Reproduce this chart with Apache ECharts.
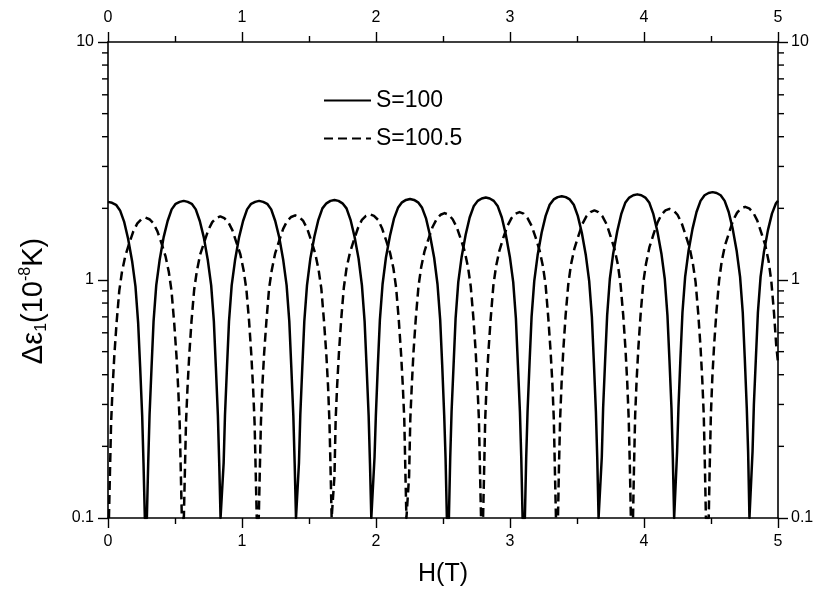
<!DOCTYPE html>
<html><head><meta charset="utf-8">
<script src="https://cdn.jsdelivr.net/npm/echarts@6/dist/echarts.min.js"></script>
<style>html,body{margin:0;padding:0;background:#fff}#c{width:820px;height:605px}</style>
</head><body><div id="c"></div>
<script>
const seriesNames = ['S=100', 'S=100.5'];
const xTicks = [0, 1, 2, 3, 4, 5];
const yTicks = [0.1, 1, 10];
const yMinorTicks = [0.2,0.3,0.4,0.5,0.6,0.7,0.8,0.9,2,3,4,5,6,7,8,9];

// S=100 (solid)
const s100H = [
0,0.03,0.06,0.09,0.12,0.15,0.18,0.205,0.225,0.24,0.255,0.265,0.275,
0.29,0.30,0.31,0.325,0.34,0.36,0.385,0.415,0.445,0.475,0.505,0.535,0.565,0.595,0.625,0.655,0.685,0.715,0.745,0.77,0.79,0.805,0.82,0.83,0.84,
0.853,0.863,0.873,0.888,0.903,0.923,0.948,0.978,1.008,1.038,1.068,1.098,1.128,1.158,1.188,1.218,1.248,1.278,1.308,1.333,1.353,1.368,1.383,1.393,1.403,
1.415,1.425,1.435,1.45,1.465,1.485,1.51,1.54,1.57,1.60,1.63,1.66,1.69,1.72,1.75,1.78,1.81,1.84,1.87,1.895,1.915,1.93,1.945,1.955,1.965,
1.979,1.989,1.999,2.014,2.029,2.049,2.074,2.104,2.134,2.164,2.194,2.224,2.254,2.284,2.314,2.344,2.374,2.404,2.434,2.459,2.479,2.494,2.509,2.519,2.529,
2.544,2.554,2.564,2.579,2.594,2.614,2.639,2.669,2.699,2.729,2.759,2.789,2.819,2.849,2.879,2.909,2.939,2.969,2.999,3.024,3.044,3.059,3.074,3.084,3.094,
3.111,3.121,3.131,3.146,3.161,3.181,3.206,3.236,3.266,3.296,3.326,3.356,3.386,3.416,3.446,3.476,3.506,3.536,3.566,3.591,3.611,3.626,3.641,3.651,3.661,
3.675,3.685,3.695,3.71,3.725,3.745,3.77,3.80,3.83,3.86,3.89,3.92,3.95,3.98,4.01,4.04,4.07,4.10,4.13,4.155,4.175,4.19,4.205,4.215,4.225,
4.237,4.247,4.257,4.272,4.287,4.307,4.332,4.362,4.392,4.422,4.452,4.482,4.512,4.542,4.572,4.602,4.632,4.662,4.692,4.717,4.737,4.752,4.767,4.777,4.787,
4.80,4.81,4.82,4.835,4.85,4.87,4.895,4.925,4.955,4.985,5.0];
const s100V = [
2.13,2.11,2.07,1.96,1.76,1.49,1.20,0.94,0.66,0.43,0.27,0.17,0.1,
0.1,0.17,0.27,0.43,0.67,0.95,1.21,1.51,1.77,1.98,2.09,2.13,2.15,2.13,2.09,1.98,1.77,1.51,1.21,0.95,0.67,0.43,0.27,0.17,0.1,
0.1,0.17,0.27,0.43,0.67,0.95,1.21,1.51,1.77,1.98,2.09,2.13,2.15,2.13,2.09,1.98,1.77,1.51,1.21,0.95,0.67,0.43,0.27,0.17,0.1,
0.1,0.17,0.27,0.43,0.67,0.95,1.23,1.52,1.79,2.00,2.10,2.15,2.17,2.15,2.10,2.00,1.79,1.52,1.23,0.95,0.67,0.43,0.27,0.17,0.1,
0.1,0.18,0.27,0.44,0.68,0.96,1.24,1.53,1.81,2.01,2.12,2.17,2.19,2.17,2.12,2.01,1.81,1.53,1.24,0.96,0.68,0.44,0.27,0.18,0.1,
0.1,0.18,0.28,0.44,0.69,0.98,1.25,1.55,1.83,2.04,2.15,2.20,2.22,2.20,2.15,2.04,1.83,1.55,1.25,0.98,0.69,0.44,0.28,0.18,0.1,
0.1,0.18,0.28,0.45,0.70,0.99,1.27,1.58,1.86,2.07,2.18,2.23,2.25,2.23,2.18,2.07,1.86,1.58,1.27,0.99,0.70,0.45,0.28,0.18,0.1,
0.1,0.18,0.29,0.46,0.71,1.01,1.29,1.60,1.89,2.11,2.22,2.27,2.29,2.27,2.22,2.11,1.89,1.60,1.29,1.01,0.71,0.46,0.29,0.18,0.1,
0.1,0.19,0.29,0.47,0.73,1.03,1.32,1.64,1.93,2.15,2.27,2.32,2.34,2.32,2.27,2.15,1.93,1.64,1.32,1.03,0.73,0.47,0.29,0.19,0.1,
0.1,0.19,0.30,0.47,0.73,1.03,1.31,1.62,1.90,2.10,2.15];

// S=100.5 (dashed)
const s1005H = [
0.007,0.014,0.023,0.034,0.047,0.064,0.084,0.104,0.129,0.159,0.189,0.219,0.249,0.279,0.309,0.339,0.369,0.399,0.429,0.454,0.474,0.494,0.511,0.524,0.535,0.544,0.551,
0.566,0.573,0.582,0.593,0.606,0.623,0.643,0.663,0.688,0.718,0.748,0.778,0.808,0.838,0.868,0.898,0.928,0.958,0.988,1.013,1.033,1.053,1.07,1.083,1.094,1.103,1.11,
1.125,1.132,1.141,1.152,1.165,1.182,1.202,1.222,1.247,1.277,1.307,1.337,1.367,1.397,1.427,1.457,1.487,1.517,1.547,1.572,1.592,1.612,1.629,1.642,1.653,1.662,1.669,
1.683,1.69,1.699,1.71,1.723,1.74,1.76,1.78,1.805,1.835,1.865,1.895,1.925,1.955,1.985,2.015,2.045,2.075,2.105,2.13,2.15,2.17,2.187,2.20,2.211,2.22,2.227,
2.24,2.247,2.256,2.267,2.28,2.297,2.317,2.337,2.362,2.392,2.422,2.452,2.482,2.512,2.542,2.572,2.602,2.632,2.662,2.687,2.707,2.727,2.744,2.757,2.768,2.777,2.784,
2.799,2.806,2.815,2.826,2.839,2.856,2.876,2.896,2.921,2.951,2.981,3.011,3.041,3.071,3.101,3.131,3.161,3.191,3.221,3.246,3.266,3.286,3.303,3.316,3.327,3.336,3.343,
3.358,3.365,3.374,3.385,3.398,3.415,3.435,3.455,3.48,3.51,3.54,3.57,3.60,3.63,3.66,3.69,3.72,3.75,3.78,3.805,3.825,3.845,3.862,3.875,3.886,3.895,3.902,
3.918,3.925,3.934,3.945,3.958,3.975,3.995,4.015,4.04,4.07,4.10,4.13,4.16,4.19,4.22,4.25,4.28,4.31,4.34,4.365,4.385,4.405,4.422,4.435,4.446,4.455,4.462,
4.483,4.49,4.499,4.51,4.523,4.54,4.56,4.58,4.605,4.635,4.665,4.695,4.725,4.755,4.785,4.815,4.845,4.875,4.905,4.93,4.95,4.97,4.987,5.0];
const s1005V = [
0.1,0.15,0.25,0.35,0.48,0.66,0.90,1.08,1.26,1.43,1.60,1.73,1.80,1.83,1.80,1.73,1.60,1.43,1.26,1.08,0.90,0.66,0.48,0.35,0.25,0.15,0.1,
0.1,0.15,0.25,0.35,0.48,0.67,0.91,1.09,1.28,1.44,1.62,1.75,1.82,1.85,1.82,1.75,1.62,1.44,1.28,1.09,0.91,0.67,0.48,0.35,0.25,0.15,0.1,
0.1,0.15,0.25,0.36,0.49,0.67,0.92,1.10,1.29,1.46,1.64,1.77,1.84,1.87,1.84,1.77,1.64,1.46,1.29,1.10,0.92,0.67,0.49,0.36,0.25,0.15,0.1,
0.1,0.15,0.26,0.36,0.49,0.68,0.93,1.12,1.30,1.47,1.65,1.79,1.86,1.89,1.86,1.79,1.65,1.47,1.30,1.12,0.93,0.68,0.49,0.36,0.26,0.15,0.1,
0.1,0.15,0.26,0.36,0.50,0.69,0.94,1.13,1.32,1.49,1.67,1.80,1.88,1.91,1.88,1.80,1.67,1.49,1.32,1.13,0.94,0.69,0.50,0.36,0.26,0.15,0.1,
0.1,0.15,0.26,0.37,0.50,0.69,0.95,1.14,1.33,1.51,1.69,1.82,1.90,1.93,1.90,1.82,1.69,1.51,1.33,1.14,0.95,0.69,0.50,0.37,0.26,0.15,0.1,
0.1,0.16,0.26,0.37,0.51,0.71,0.96,1.16,1.35,1.53,1.72,1.85,1.93,1.96,1.93,1.85,1.72,1.53,1.35,1.16,0.96,0.71,0.51,0.37,0.26,0.16,0.1,
0.1,0.16,0.27,0.38,0.52,0.72,0.98,1.17,1.37,1.55,1.74,1.88,1.96,1.99,1.96,1.88,1.74,1.55,1.37,1.17,0.98,0.72,0.52,0.38,0.27,0.16,0.1,
0.1,0.16,0.27,0.39,0.53,0.73,0.99,1.20,1.40,1.58,1.78,1.92,2.00,2.03,2.00,1.92,1.78,1.58,1.40,1.20,0.99,0.73,0.53,0.45];

const FONT = '"Liberation Sans", Arial, Helvetica, sans-serif';
const pairs = (xs, ys) => xs.map((x, i) => [x, ys[i]]);

const chart = echarts.init(document.getElementById('c'), null, {renderer: 'canvas'});
const axisLine = {show: true, onZero: false, lineStyle: {color: '#000', width: 1.6}};
const xAxisCommon = {
  type: 'value', min: xTicks[0], max: xTicks[xTicks.length - 1], interval: 1,
  axisLine: axisLine,
  axisTick: {show: true, inside: false, length: 10, lineStyle: {color: '#000', width: 1.4}},
  minorTick: {show: true, splitNumber: 2, length: 6, lineStyle: {color: '#000', width: 1.4}},
  splitLine: {show: false},
  axisLabel: {color: '#000', fontSize: 16, fontFamily: FONT, margin: 16}
};
const yAxisCommon = {
  type: 'log', logBase: 10, min: yTicks[0], max: yTicks[yTicks.length - 1],
  axisLine: axisLine,
  axisTick: {show: true, inside: false, length: 10, lineStyle: {color: '#000', width: 1.4}},
  minorTick: {show: false},
  splitLine: {show: false},
  axisLabel: {color: '#000', fontSize: 16, fontFamily: FONT, margin: 14}
};

chart.setOption({
  animation: false,
  backgroundColor: '#fff',
  grid: {left: 108, right: 42, top: 42, bottom: 87, containLabel: false},
  legend: {
    orient: 'vertical', left: 323, top: 89, itemGap: 15, padding: 0,
    itemWidth: 47, itemHeight: 22,
    itemStyle: {color: 'rgba(0,0,0,0)', borderColor: 'rgba(0,0,0,0)', borderWidth: 0},
    textStyle: {color: '#000', fontSize: 23, fontFamily: FONT},
    data: seriesNames
  },
  xAxis: [
    Object.assign({}, xAxisCommon, {position: 'bottom', name: 'H(T)', nameLocation: 'middle', nameGap: 44,
      nameTextStyle: {color: '#000', fontSize: 25, fontFamily: FONT}}),
    Object.assign({}, xAxisCommon, {position: 'top'})
  ],
  yAxis: [
    Object.assign({}, yAxisCommon, {position: 'left',
      name: 'Δε{sub|1}(10{sup|-8}K)', nameLocation: 'middle', nameGap: 58, nameRotate: 90,
      nameTextStyle: {color: '#000', fontSize: 29, fontFamily: FONT, padding: [0, 42, 0, 0],
        rich: {sub: {fontSize: 16, fontFamily: FONT, color: '#000', verticalAlign: 'bottom', padding: [16, 0, 0, 0]},
               sup: {fontSize: 16, fontFamily: FONT, color: '#000', verticalAlign: 'top', padding: [0, 0, 14, 0]}}}}),
    Object.assign({}, yAxisCommon, {position: 'right', axisLabel: Object.assign({}, yAxisCommon.axisLabel, {margin: 13})})
  ],
  series: [
    {name: seriesNames[0], type: 'line', xAxisIndex: 0, yAxisIndex: 0, symbol: 'none', smooth: false,
     lineStyle: {color: '#000', width: 2.5, type: 'solid', join: 'round'}, itemStyle: {color: '#000'},
     data: pairs(s100H, s100V)},
    {name: seriesNames[1], type: 'line', xAxisIndex: 0, yAxisIndex: 0, symbol: 'none', smooth: false,
     lineStyle: {color: '#000', width: 2.5, type: [9, 5], join: 'round'}, itemStyle: {color: '#000'},
     data: pairs(s1005H, s1005V)}
  ]
});

// minor log ticks on left and right y axes, placed through the axis scale
const xl = chart.convertToPixel({xAxisIndex: 0}, xTicks[0]);
const xr = chart.convertToPixel({xAxisIndex: 0}, xTicks[xTicks.length - 1]);
const g = [];
yMinorTicks.forEach(v => {
  const y = chart.convertToPixel({yAxisIndex: 0}, v);
  g.push({type: 'line', shape: {x1: xl - 6, y1: y, x2: xl, y2: y}, style: {stroke: '#000', lineWidth: 1.4}, silent: true});
  g.push({type: 'line', shape: {x1: xr, y1: y, x2: xr + 6, y2: y}, style: {stroke: '#000', lineWidth: 1.4}, silent: true});
});
chart.setOption({graphic: g});
</script></body></html>
